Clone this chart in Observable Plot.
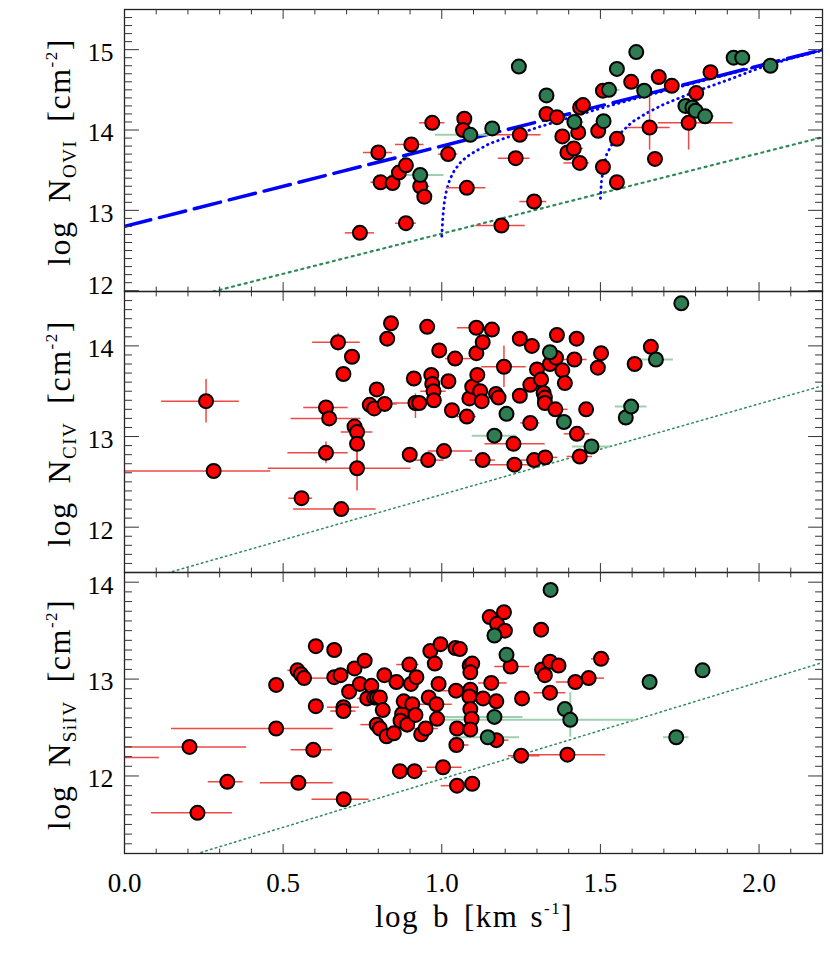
<!DOCTYPE html>
<html><head><meta charset="utf-8">
<script src="https://cdn.jsdelivr.net/npm/d3@7"></script>
<script src="https://cdn.jsdelivr.net/npm/@observablehq/plot@0.6"></script>
<style>
html,body{margin:0;padding:0;background:#fff;}
#chart{position:relative;width:830px;height:969px;background:#fff;overflow:hidden;}
#chart svg{position:absolute;left:0;}
</style></head><body><div id="chart"></div>
<script>
// ---------- data: rows are [log b, log N, xErrLow, xErrHigh, yErrLow, yErrHigh] ----------
const oviRed = [
 [0.742,12.72,0.046,0.046,0,0],[0.80,13.72,0.047,0.045,0,0],[0.807,13.35,0.03,0.03,0,0],
 [0.845,13.34,0,0,0,0],[0.865,13.47,0,0,0,0],[0.887,13.56,0,0,0,0],[0.887,12.84,0.033,0.033,0,0],
 [0.904,13.82,0.05,0.04,0,0],[0.932,13.30,0.02,0.03,0,0],[0.945,13.17,0.02,0.02,0,0],
 [0.97,14.09,0.04,0.04,0,0],[1.02,13.70,0.03,0.03,0,0],[1.071,14.14,0,0,0,0],[1.067,14.0,0,0,0,0],
 [1.079,13.28,0.065,0.06,0,0],[1.188,12.81,0.08,0.075,0,0],[1.233,13.65,0.055,0.045,0,0],
 [1.246,13.94,0.075,0.067,0,0],[1.291,13.11,0.045,0.04,0,0],[1.33,14.2,0,0,0,0],[1.363,14.16,0,0,0,0],
 [1.38,13.92,0,0,0,0],[1.396,13.72,0.02,0.02,0,0],[1.416,13.77,0.03,0.03,0,0],[1.43,13.97,0,0,0,0],
 [1.435,13.59,0.05,0.03,0,0],[1.436,14.28,0,0,0,0],[1.445,14.31,0,0,0,0],[1.493,13.99,0,0,0,0],
 [1.508,13.54,0,0,0,0],[1.508,14.49,0,0,0,0],[1.552,13.89,0,0,0,0],[1.552,13.35,0,0,0,0],
 [1.597,14.6,0,0,0,0],[1.655,14.03,0.07,0.065,0.28,0.4],[1.672,13.64,0,0,0,0],[1.684,14.66,0,0,0,0],
 [1.725,14.55,0,0,0,0],[1.778,14.09,0.095,0.14,0.34,0.3],[1.802,14.46,0,0,0,0],[1.847,14.72,0,0,0,0]
];
const oviGreen = [
 [0.932,13.44,0.095,0.075,0,0],[1.09,13.94,0.11,0.07,0.1,0.06],[1.159,14.02,0,0,0,0],
 [1.243,14.79,0,0,0,0],[1.33,14.43,0,0,0,0],[1.418,14.10,0.02,0.03,0,0],[1.51,14.11,0,0,0,0],
 [1.527,14.5,0.035,0.035,0,0],[1.552,14.76,0,0,0,0],[1.613,14.97,0,0,0,0],[1.638,14.49,0,0,0,0],
 [1.768,14.30,0,0,0,0],[1.79,14.28,0,0,0,0],[1.80,14.24,0,0,0,0],[1.83,14.17,0.02,0.03,0,0],
 [1.92,14.9,0,0,0,0],[1.947,14.9,0,0,0,0],[2.036,14.8,0,0,0,0]
];
const civRed = [
 [0.257,13.39,0.14,0.105,0.24,0.24],[0.281,12.62,0.35,0.18,0,0],[0.558,12.32,0.04,0.035,0,0],
 [0.635,13.32,0.07,0.07,0,0],[0.645,13.2,0.12,0.1,0,0],[0.635,12.82,0.12,0.07,0.12,0.12],
 [0.673,14.04,0.08,0.07,0.1,0.1],[0.683,12.2,0.15,0.11,0,0],[0.69,13.69,0,0,0,0],[0.717,13.88,0,0,0,0],
 [0.725,13.11,0,0,0,0],[0.733,13.05,0.05,0.05,0,0],[0.733,12.92,0,0,0.2,0.2],[0.733,12.65,0.28,0.17,0.25,0.2],
 [0.773,13.35,0,0,0,0],[0.787,13.31,0,0,0,0],[0.795,13.52,0,0,0,0],[0.82,13.36,0.04,0.04,0,0],
 [0.828,14.08,0,0,0,0],[0.84,14.25,0,0,0,0],[0.899,12.8,0,0,0,0],[0.912,13.64,0,0,0,0],
 [0.917,13.37,0.07,0.06,0.17,0.1],[0.929,13.37,0,0,0,0],[0.954,14.21,0,0,0,0],[0.957,12.74,0.04,0.05,0,0],
 [0.967,13.68,0,0,0,0],[0.97,13.58,0,0,0,0],[0.974,13.5,0.04,0.04,0,0],[0.975,13.4,0,0,0,0],
 [0.992,13.95,0,0,0,0],[1.007,12.84,0.05,0.09,0,0],[1.021,13.61,0,0,0,0],[1.032,13.29,0,0,0,0],
 [1.042,13.86,0.03,0.05,0,0],[1.079,13.22,0.03,0.03,0,0],[1.087,13.42,0,0,0,0],[1.096,13.55,0,0,0,0],
 [1.109,14.2,0.06,0.04,0,0],[1.109,13.92,0,0,0,0],[1.112,13.68,0,0,0,0],[1.121,13.5,0,0,0,0],
 [1.126,13.39,0,0,0,0],[1.129,12.74,0.04,0.04,0,0],[1.129,14.04,0,0,0,0],[1.158,14.18,0,0,0,0],
 [1.171,13.47,0,0,0,0],[1.179,13.43,0,0,0,0],[1.196,13.77,0.07,0.07,0.23,0.23],[1.226,12.92,0.09,0.1,0,0],
 [1.229,12.69,0.08,0.07,0,0],[1.246,14.08,0,0,0,0],[1.246,13.45,0,0,0,0],[1.279,13.15,0.03,0.03,0,0],
 [1.279,13.57,0,0,0,0],[1.284,14.0,0,0,0,0],[1.291,12.74,0.04,0.04,0,0],[1.3,13.74,0,0,0.08,0.08],
 [1.313,13.63,0,0,0,0],[1.321,13.48,0,0,0,0],[1.325,13.43,0,0,0,0],[1.325,13.37,0,0,0,0],
 [1.326,12.77,0.03,0.04,0,0],[1.341,13.8,0,0,0,0],[1.358,13.3,0.03,0.04,0,0],[1.36,13.87,0,0,0,0],
 [1.363,14.12,0,0,0.08,0.08],[1.38,13.73,0,0,0,0],[1.388,13.59,0,0,0,0],[1.418,13.85,0.04,0.04,0,0],
 [1.425,14.08,0,0,0,0],[1.426,13.03,0.04,0.04,0,0],[1.435,12.78,0.04,0.04,0,0],[1.455,13.3,0,0,0,0],
 [1.492,13.76,0,0,0,0],[1.502,13.92,0,0,0,0],[1.608,13.8,0,0,0,0],[1.659,13.99,0,0,0,0]
];
const civGreen = [
 [1.166,13.01,0.07,0.07,0.04,0.04],[1.204,13.25,0,0,0,0],[1.341,13.93,0,0,0,0],[1.385,13.16,0,0,0,0],
 [1.472,12.89,0.06,0.06,0,0],[1.58,13.21,0,0,0,0],[1.597,13.33,0.05,0.05,0,0],[1.675,13.85,0.055,0.055,0,0],
 [1.755,14.47,0,0,0,0]
];
const siivRed = [
 [-0.1,12.19,0.2,0.21,0,0],[0.205,12.3,0.205,0.18,0,0],[0.23,11.62,0.145,0.11,0,0],[0.324,11.94,0.06,0.05,0,0],
 [0.478,12.94,0.02,0.02,0,0],[0.478,12.49,0.33,0.18,0,0],[0.545,13.09,0.03,0.03,0,0],[0.548,11.93,0.12,0.11,0,0],
 [0.556,13.05,0,0,0,0],[0.566,13.01,0,0.08,0,0],[0.595,12.27,0.07,0.06,0,0],[0.603,13.34,0,0,0,0],
 [0.603,12.72,0,0,0,0],[0.661,13.30,0,0,0,0],[0.661,13.02,0,0,0,0],[0.681,13.04,0,0,0,0],
 [0.69,12.71,0.05,0.05,0,0],[0.69,12.67,0.04,0.04,0,0],[0.691,11.76,0.1,0.08,0,0],[0.708,12.87,0,0,0,0],
 [0.725,13.11,0,0,0,0],[0.742,12.95,0,0,0,0],[0.757,13.19,0,0,0,0],[0.765,12.8,0.03,0.03,0,0],
 [0.778,12.93,0,0,0,0],[0.787,12.81,0,0,0,0],[0.796,12.81,0,0,0,0],[0.805,12.81,0,0,0,0],
 [0.795,12.53,0.05,0.03,0,0],[0.805,12.49,0,0,0,0],[0.814,12.68,0,0,0,0],[0.819,13.04,0,0,0,0],
 [0.826,12.41,0,0,0,0],[0.849,12.44,0,0,0,0],[0.857,12.97,0,0,0,0],[0.868,12.05,0.02,0.04,0,0],
 [0.875,12.64,0,0,0,0],[0.87,12.57,0,0,0,0],[0.88,12.77,0,0,0,0],[0.891,12.53,0,0,0,0],
 [0.898,13.15,0.04,0.03,0,0],[0.903,12.95,0,0,0,0],[0.907,12.74,0,0,0,0],[0.917,12.63,0,0,0,0],
 [0.914,12.05,0.02,0.04,0,0],[0.92,13.02,0,0,0,0],[0.935,12.43,0,0,0,0],[0.949,12.49,0.04,0.04,0,0],
 [0.959,12.81,0,0,0,0],[0.964,13.29,0,0,0,0],[0.978,13.16,0,0,0,0],[0.983,12.74,0.05,0.05,0,0],
 [0.985,12.59,0,0,0,0],[0.99,12.95,0,0,0,0],[0.996,13.36,0,0,0,0],[1.004,12.09,0.05,0.06,0.05,0.04],
 [1.045,12.88,0.05,0.03,0,0],[1.043,13.32,0,0,0.05,0],[1.057,13.31,0,0,0,0],[1.048,12.49,0,0,0,0],
 [1.046,12.32,0,0.04,0.05,0.05],[1.048,11.90,0.05,0.02,0,0],[1.096,11.92,0,0,0,0],[1.088,13.14,0,0,0,0],
 [1.096,13.16,0,0,0,0],[1.09,13.07,0,0,0,0],[1.09,12.89,0,0,0,0],[1.087,12.82,0,0,0,0],
 [1.09,12.69,0,0,0,0],[1.094,12.59,0,0,0,0],[1.09,12.48,0,0,0,0],[1.13,12.80,0.03,0.03,0,0],
 [1.151,13.64,0,0,0,0],[1.156,12.96,0.04,0.05,0,0],[1.172,12.77,0,0,0,0],[1.172,12.37,0.03,0.04,0,0],
 [1.174,13.57,0,0,0,0],[1.196,13.69,0,0,0,0],[1.199,13.5,0,0,0,0],[1.217,13.13,0.05,0.06,0,0],
 [1.253,12.80,0,0,0,0],[1.25,12.21,0.04,0.06,0,0],[1.313,13.51,0,0,0,0],[1.316,13.1,0,0,0.06,0.06],
 [1.325,13.04,0,0,0,0],[1.341,13.18,0,0,0.08,0.07],[1.341,12.86,0.05,0.05,0,0],[1.368,13.14,0,0,0,0],
 [1.396,12.22,0.13,0.12,0.04,0.04],[1.421,12.97,0.06,0.06,0,0],[1.463,13.01,0.04,0.05,0,0],[1.502,13.21,0.03,0.03,0,0]
];
const siivGreen = [
 [1.145,12.40,0.11,0.1,0.05,0.05],[1.166,12.61,0.16,0.09,0,0],[1.166,13.45,0,0,0,0],[1.204,13.25,0,0,0,0],
 [1.343,13.92,0,0,0,0],[1.388,12.69,0,0,0,0],[1.405,12.58,0.40,0.21,0.18,0.28],[1.655,12.97,0,0,0,0],
 [1.739,12.4,0.04,0.04,0,0],[1.822,13.09,0,0,0,0]
];
// model / limit lines
const oviDashed = [[0.0,12.8],[2.2,15.0]];
const oviDotted1 = [[1.0,12.68],[1.003,12.9],[1.008,13.1],[1.015,13.25],[1.025,13.38],[1.04,13.5],[1.06,13.6],[1.08,13.67],[1.1,13.72],[1.15,13.83],[1.2,13.9],[1.3,14.03],[1.4,14.15],[1.5,14.27],[1.6,14.38],[1.8,14.59],[2.0,14.795],[2.2,14.997]];
const oviDotted2 = [[1.5,13.15],[1.503,13.35],[1.51,13.55],[1.52,13.7],[1.54,13.85],[1.56,13.95],[1.6,14.1],[1.65,14.22],[1.7,14.32],[1.8,14.48],[1.9,14.62],[2.0,14.77],[2.1,14.89],[2.2,14.99]];
const oviLimit = [[0.2,11.91],[2.2,13.91]];
const civLimit = [[0.0,11.36],[2.2,13.56]];
const siivLimit = [[0.0,10.97],[2.2,13.17]];
// axes
const xDomain = [0, 2.2];
const xMajor = [0, 0.5, 1.0, 1.5, 2.0];
const oviDomain = [11.99, 15.5], civDomain = [11.5, 14.6], siivDomain = [11.2, 14.1];
const oviMajor = [12, 13, 14, 15], civMajor = [12, 13, 14], siivMajor = [12, 13, 14];

const RED = "#ff0000", GREEN = "#2e7d52", ERR_RED = "#ec4a46", ERR_GREEN = "#9fcfae";
const BLUE = "#0000ff", LIM = "#2e8b57", TICK = "#333";
const FONT = "'Liberation Serif','Times New Roman',serif";

const tickShape = {draw(ctx, l) { ctx.moveTo(0, 0); ctx.lineTo(0, -l); }};
function tenths(lo, hi) {
  const out = [];
  for (let i = Math.ceil(lo * 10 - 1e-6); i <= Math.floor(hi * 10 + 1e-6); i++) out.push(i);
  return out;
}
const xMinor = tenths(0.01, 2.19).filter(i => i % 5 !== 0).map(i => i / 10);

function ticks(yDomain) {
  const yMaj = tenths(yDomain[0] + 0.01, yDomain[1] - 0.01).filter(i => i % 10 === 0).map(i => i / 10);
  const yMin = tenths(yDomain[0] + 0.01, yDomain[1] - 0.01).filter(i => i % 10 !== 0).map(i => i / 10);
  const xm = xMajor.filter(v => v > 0);
  const o = {shape: tickShape, anchor: "start", stroke: TICK, strokeWidth: 1};
  return [
    Plot.vector(yMaj, {...o, x: () => xDomain[0], y: d => d, length: 14, rotate: 90}),
    Plot.vector(yMin, {...o, x: () => xDomain[0], y: d => d, length: 7, rotate: 90}),
    Plot.vector(yMaj, {...o, x: () => xDomain[1], y: d => d, length: 14, rotate: -90}),
    Plot.vector(yMin, {...o, x: () => xDomain[1], y: d => d, length: 7, rotate: -90}),
    Plot.vector(xm, {...o, x: d => d, y: () => yDomain[0], length: 9, rotate: 0}),
    Plot.vector(xMinor, {...o, x: d => d, y: () => yDomain[0], length: 4.5, rotate: 0}),
    Plot.vector(xm, {...o, x: d => d, y: () => yDomain[1], length: 9, rotate: 180}),
    Plot.vector(xMinor, {...o, x: d => d, y: () => yDomain[1], length: 4.5, rotate: 180})
  ];
}

function points(red, green) {
  const hx = d => d[2] > 0 || d[3] > 0, hy = d => d[4] > 0 || d[5] > 0;
  const ex = (data, stroke, w) => Plot.ruleY(data.filter(hx), {y: d => d[1], x1: d => d[0] - d[2], x2: d => d[0] + d[3], stroke, strokeWidth: w, clip: true});
  const ey = (data, stroke, w) => Plot.ruleX(data.filter(hy), {x: d => d[0], y1: d => d[1] - d[4], y2: d => d[1] + d[5], stroke, strokeWidth: w, clip: true});
  return [
    ex(green, ERR_GREEN, 2), ey(green, ERR_GREEN, 2),
    ex(red, ERR_RED, 1.5), ey(red, ERR_RED, 1.5),
    Plot.dot(red, {x: d => d[0], y: d => d[1], r: 7, fill: RED, stroke: "#000", strokeWidth: 2, clip: true}),
    Plot.dot(green, {x: d => d[0], y: d => d[1], r: 7, fill: GREEN, stroke: "#000", strokeWidth: 2, clip: true})
  ];
}
const line = (data, o) => Plot.line(data, {x: d => d[0], y: d => d[1], clip: true, ...o});

function panel({top, height, mT, mB, yDomain, yMajor, extra, red, green, lowLabelDy, ion, isBottom}) {
  const marks = [
    ...extra,
    ...points(red, green),
    Plot.frame({stroke: "#222", strokeWidth: 1.3}),
    ...ticks(yDomain),
    Plot.axisY(yMajor.slice(1), {anchor: "left", tickSize: 0, tickPadding: 11, dy: 3, label: null, tickFormat: d => String(d), fontSize: 26}),
    Plot.axisY(yMajor.slice(0, 1), {anchor: "left", tickSize: 0, tickPadding: 11, dy: lowLabelDy, label: null, tickFormat: d => String(d), fontSize: 26})
  ];
  if (isBottom) marks.push(Plot.axisX(xMajor, {anchor: "bottom", tickSize: 0, tickPadding: 19, label: null, tickFormat: d3.format(".1f"), fontSize: 27}));
  const svg = Plot.plot({
    width: 830, height, marginLeft: 124, marginRight: 8, marginTop: mT, marginBottom: mB,
    x: {domain: xDomain, axis: null}, y: {domain: yDomain, axis: null},
    style: {background: "none", overflow: "visible", fontFamily: FONT, color: "#000"},
    marks
  });
  svg.style.top = top + "px";
  const s = d3.select(svg);
  const cy = mT + (height - mT - mB) / 2 + 2;
  const t = s.append("text").attr("transform", `translate(70,${cy}) rotate(-90)`)
    .attr("text-anchor", "middle").attr("font-family", FONT).attr("font-size", 32)
    .attr("letter-spacing", 1.5).attr("fill", "#000");
  t.append("tspan").text("log");
  t.append("tspan").attr("dx", 18).text("N");
  t.append("tspan").attr("dy", 6).attr("font-size", 19).text(ion);
  t.append("tspan").attr("dy", -6).attr("dx", 18).text("[cm");
  t.append("tspan").attr("dy", -13).attr("font-size", 17).text("-2");
  t.append("tspan").attr("dy", 13).text("]");
  if (isBottom) {
    const xt = s.append("text").attr("x", 474).attr("y", height - 42).attr("text-anchor", "middle")
      .attr("font-family", FONT).attr("font-size", 31).attr("letter-spacing", 1.5).attr("fill", "#000");
    xt.append("tspan").text("log");
    xt.append("tspan").attr("dx", 14).text("b");
    xt.append("tspan").attr("dx", 14).text("[km");
    xt.append("tspan").attr("dx", 12).text("s");
    xt.append("tspan").attr("dy", -13).attr("font-size", 17).text("-1");
    xt.append("tspan").attr("dy", 13).text("]");
  }
  document.getElementById("chart").appendChild(svg);
}

panel({top: 0, height: 301, mT: 9, mB: 10, yDomain: oviDomain, yMajor: oviMajor, red: oviRed, green: oviGreen,
  lowLabelDy: -5, ion: "OVI",
  extra: [
    line(oviLimit, {stroke: LIM, strokeWidth: 2.2, strokeDasharray: "2,4.5"}),
    line(oviDashed, {stroke: BLUE, strokeWidth: 3.5, strokeDasharray: "27,9"}),
    line(oviDotted1, {stroke: BLUE, strokeWidth: 2.8, strokeDasharray: "0.5,5", strokeLinecap: "round"}),
    line(oviDotted2, {stroke: BLUE, strokeWidth: 2.8, strokeDasharray: "0.5,5", strokeLinecap: "round"})
  ]});
panel({top: 281, height: 301, mT: 10, mB: 10, yDomain: civDomain, yMajor: civMajor, red: civRed, green: civGreen,
  lowLabelDy: 3, ion: "CIV",
  extra: [line(civLimit, {stroke: LIM, strokeWidth: 1.5, strokeDasharray: "1.5,3.5"})]});
panel({top: 562, height: 407, mT: 10, mB: 116, yDomain: siivDomain, yMajor: siivMajor, red: siivRed, green: siivGreen,
  lowLabelDy: 3, ion: "SiIV", isBottom: true,
  extra: [line(siivLimit, {stroke: LIM, strokeWidth: 1.5, strokeDasharray: "1.5,3.5"})]});
</script></body></html>
